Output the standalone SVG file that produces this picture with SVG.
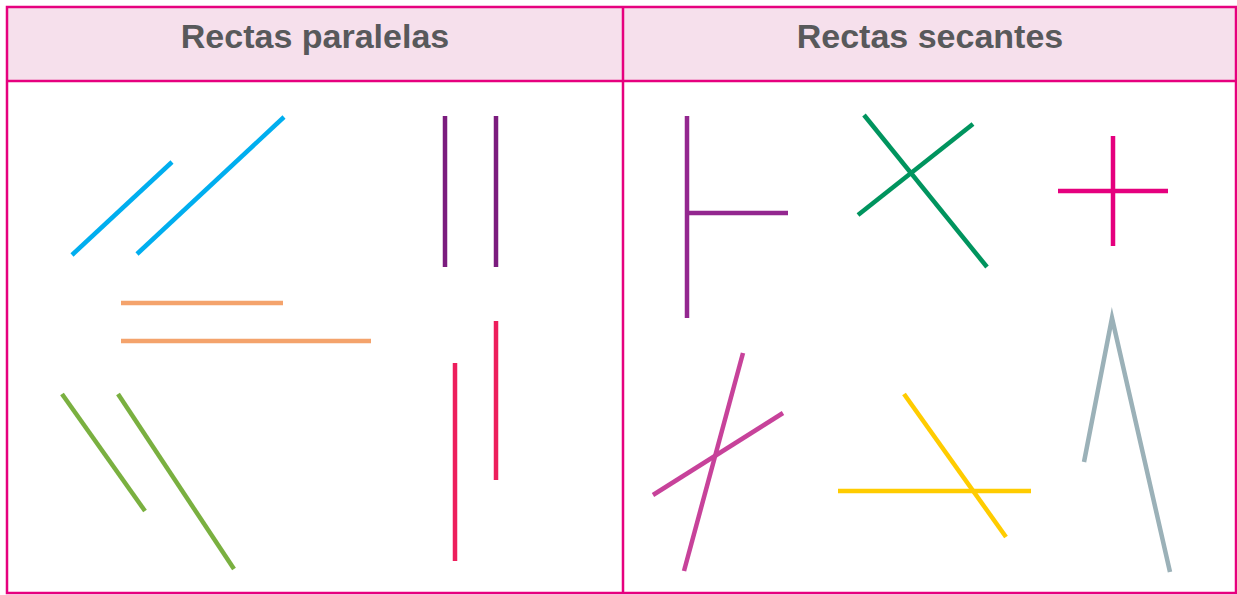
<svg xmlns="http://www.w3.org/2000/svg" width="1237" height="595" viewBox="0 0 1237 595">
<style>
.frame{fill:none;stroke:#E6007E;stroke-width:2.5}
.hdr{fill:#F6E0EC}
.title{font-family:"Liberation Sans",Arial,sans-serif;font-weight:bold;font-size:34px;fill:#58595B;text-anchor:middle}
.ln{fill:none;stroke-width:4.5;stroke-linecap:butt}
</style>
<rect x="0" y="0" width="1237" height="595" fill="#FFFFFF"/>
<g id="table">
<rect class="hdr" x="7" y="7" width="1229" height="74"/>
<rect class="frame" x="7" y="7" width="1229" height="586"/>
<line class="frame" x1="7" y1="81" x2="1236" y2="81"/>
<line class="frame" x1="623" y1="7" x2="623" y2="593"/>
</g>
<g id="title-paralelas"><text class="title" x="315" y="48">Rectas paralelas</text></g>
<g id="title-secantes"><text class="title" x="930" y="48">Rectas secantes</text></g>
<g id="paralelas">
<g id="p-cyan" stroke="#00AEEF" class="ln"><line x1="72" y1="255" x2="172" y2="162"/><line x1="137" y1="254" x2="284" y2="117"/></g>
<g id="p-purple" stroke="#7B1C7E" class="ln"><line x1="445" y1="116" x2="445" y2="267"/><line x1="496" y1="116" x2="496" y2="267"/></g>
<g id="p-orange" stroke="#F4A36C" class="ln"><line x1="121" y1="303" x2="283" y2="303"/><line x1="121" y1="341" x2="371" y2="341"/></g>
<g id="p-green" stroke="#7AB040" class="ln"><line x1="62" y1="394" x2="145" y2="511"/><line x1="118" y1="394" x2="234" y2="569"/></g>
<g id="p-red" stroke="#ED1E5C" class="ln"><line x1="455" y1="363" x2="455" y2="561"/><line x1="496" y1="321" x2="496" y2="480"/></g>
</g>
<g id="secantes">
<g id="s-purple" stroke="#93278F" class="ln"><line x1="687" y1="116" x2="687" y2="318"/><line x1="687" y1="213" x2="788" y2="213"/></g>
<g id="s-green" stroke="#00945E" class="ln"><line x1="864" y1="115" x2="987" y2="267"/><line x1="858" y1="215" x2="973" y2="124"/></g>
<g id="s-magenta" stroke="#E5007E" class="ln"><line x1="1113" y1="136" x2="1113" y2="246"/><line x1="1058" y1="191" x2="1168" y2="191"/></g>
<g id="s-pink" stroke="#C7429A" class="ln"><line x1="743" y1="353" x2="684" y2="571"/><line x1="653" y1="495" x2="783" y2="413"/></g>
<g id="s-yellow" stroke="#FFCC00" class="ln"><line x1="904" y1="394" x2="1006" y2="537"/><line x1="838" y1="491" x2="1031" y2="491"/></g>
<g id="s-gray" stroke="#9BB1B8" class="ln"><polyline points="1084,462 1112,318 1170,572" stroke-linejoin="miter" stroke-miterlimit="20"/></g>
</g>
</svg>
